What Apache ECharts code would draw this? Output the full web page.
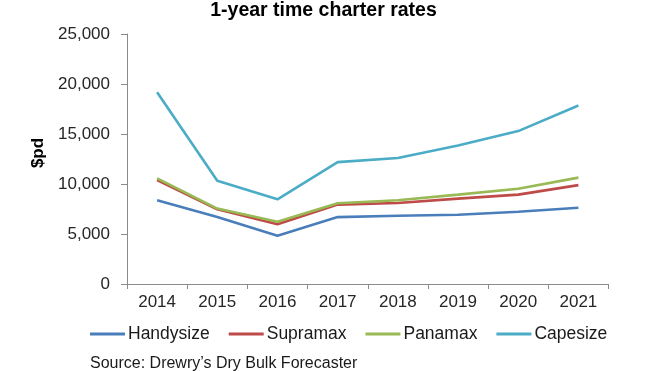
<!DOCTYPE html>
<html>
<head>
<meta charset="utf-8">
<script src="https://cdn.jsdelivr.net/npm/echarts@6/dist/echarts.min.js"></script>
<style>
html,body{margin:0;padding:0;background:#fff;}
#chart{width:650px;height:371px;}
</style>
</head>
<body>
<div id="chart"></div>
<script>
var years = ['2014','2015','2016','2017','2018','2019','2020','2021'];
var handysize = [8370, 6690, 4830, 6690, 6830, 6930, 7230, 7630];
var supramax  = [10400, 7470, 5980, 7940, 8100, 8540, 8940, 9890];
var panamax   = [10570, 7540, 6220, 8080, 8380, 8940, 9520, 10640];
var capesize  = [19170, 10330, 8470, 12190, 12600, 13840, 15290, 17850];
var seriesNames = ['Handysize','Supramax','Panamax','Capesize'];
var seriesColors = ['#4a7ebb','#be4b48','#98b954','#4bacc6'];
var seriesData = [handysize, supramax, panamax, capesize];

var chart = echarts.init(document.getElementById('chart'), null, {renderer:'canvas'});
var FONT = 'Liberation Sans, Arial, sans-serif';
chart.setOption({
  animation: false,
  backgroundColor: '#fff',
  title: {
    text: '1-year time charter rates',
    left: 318.5, textAlign: 'center', top: -4,
    textStyle: {fontFamily: FONT, fontSize: 19.5, fontWeight: 'bold', color: '#000'}
  },
  grid: {left: 127, right: 41.5, top: 34, bottom: 87, containLabel: false},
  legend: {
    left: 85, top: 320,
    icon: 'rect', itemWidth: 35, itemHeight: 3, itemGap: 19,
    textStyle: {fontFamily: FONT, fontSize: 17.5, color: '#1a1a1a', padding: [0,0,0,-2]},
    data: seriesNames
  },
  xAxis: {
    type: 'category', data: years, boundaryGap: true,
    axisLine: {lineStyle: {color: '#8a8a8a', width: 1}},
    axisTick: {show: true, length: 5, alignWithLabel: false, lineStyle: {color: '#8a8a8a'}},
    axisLabel: {fontFamily: FONT, fontSize: 17, color: '#262626', margin: 10}
  },
  yAxis: {
    type: 'value', min: 0, max: 25000, interval: 5000,
    name: '$pd', nameLocation: 'middle', nameGap: 73, nameRotate: 90,
    nameTextStyle: {fontFamily: FONT, fontSize: 17, fontWeight: 'bold', color: '#000', padding: [0,0,0,12]},
    axisLine: {show: true, lineStyle: {color: '#8a8a8a', width: 1}},
    axisTick: {show: true, length: 6, lineStyle: {color: '#8a8a8a'}},
    splitLine: {show: false},
    axisLabel: {fontFamily: FONT, fontSize: 17, color: '#262626', margin: 17,
      formatter: function(v){ return v.toLocaleString('en-US'); }}
  },
  graphic: [{
    type: 'text', left: 90, top: 356,
    style: {text: "Source: Drewry\u2019s Dry Bulk Forecaster", font: '16px ' + FONT, fill: '#1a1a1a'}
  }],
  series: seriesNames.map(function(n, i){
    return {
      name: n, type: 'line', data: seriesData[i],
      symbol: 'none', smooth: false,
      lineStyle: {color: seriesColors[i], width: 2.6},
      itemStyle: {color: seriesColors[i]}
    };
  })
});
</script>
</body>
</html>
